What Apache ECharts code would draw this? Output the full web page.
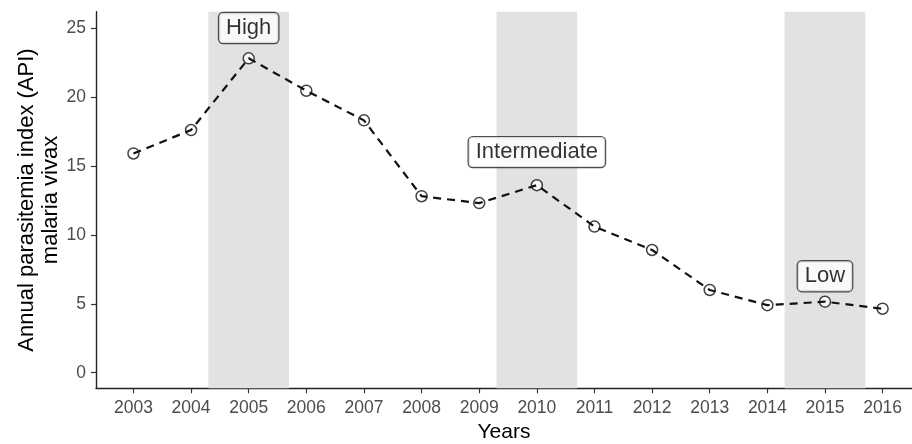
<!DOCTYPE html>
<html>
<head>
<meta charset="utf-8">
<script src="https://cdn.jsdelivr.net/npm/echarts@6/dist/echarts.min.js"></script>
<style>
  html, body { margin: 0; padding: 0; background: #fff; }
  #chart { width: 912px; height: 444px; }
</style>
</head>
<body>
<div id="chart"></div>
<script>
// Annual parasitemia index (API) for malaria vivax, by year
const years = [2003, 2004, 2005, 2006, 2007, 2008, 2009, 2010, 2011, 2012, 2013, 2014, 2015, 2016];
const api = [15.9, 17.6, 22.8, 20.45, 18.3, 12.8, 12.3, 13.6, 10.6, 8.9, 6.0, 4.9, 5.15, 4.64];

// Highlighted periods (shaded) and their labels
const bandRanges = [[2004.3, 2005.7], [2009.3, 2010.7], [2014.3, 2015.7]];
const bandLabels = ['High', 'Intermediate', 'Low'];
const labelYears = [2005, 2010, 2015];
const labelValues = [25, 16, 7];

const yTicks = [0, 5, 10, 15, 20, 25];

const font = 'Liberation Sans, Arial, Helvetica, sans-serif';

const chart = echarts.init(document.getElementById('chart'));

chart.setOption({
  animation: false,
  backgroundColor: '#ffffff',
  grid: { left: 96, right: 0, top: 11.7, bottom: 55.7, containLabel: false, outerBoundsMode: 'none' },
  xAxis: {
    type: 'value',
    min: 2002.35,
    max: 2016.51,
    name: 'Years',
    nameLocation: 'middle',
    nameGap: 33,
    nameMoveOverlap: false,
    nameTextStyle: { color: '#000', fontSize: 21, fontFamily: font },
    splitLine: { show: false },
    axisLine: { onZero: false, lineStyle: { color: '#222', width: 1.4 } },
    axisTick: { show: true, length: 5, customValues: years, lineStyle: { color: '#333', width: 1.2 } },
    axisLabel: {
      customValues: years,
      formatter: v => String(v),
      color: '#4d4d4d', fontSize: 17.5, fontFamily: font, margin: 11
    }
  },
  yAxis: {
    type: 'value',
    min: -1.13,
    max: 26.18,
    name: 'Annual parasitemia index (API)\nmalaria vivax',
    nameLocation: 'middle',
    nameRotate: 90,
    nameGap: 33,
    nameMoveOverlap: false,
    nameTextStyle: { color: '#000', fontSize: 22, fontFamily: font, lineHeight: 24 },
    splitLine: { show: false },
    axisLine: { show: true, onZero: false, lineStyle: { color: '#222', width: 1.4 } },
    axisTick: { show: true, length: 5, customValues: yTicks, lineStyle: { color: '#333', width: 1.2 } },
    axisLabel: { customValues: yTicks, color: '#4d4d4d', fontSize: 17.5, fontFamily: font, margin: 10 }
  },
  series: [
    {
      name: 'bands',
      type: 'line',
      data: [],
      z: 1,
      silent: true,
      markArea: {
        silent: true,
        itemStyle: { color: '#e2e2e2' },
        data: bandRanges.map(r => [{ xAxis: r[0] }, { xAxis: r[1] }])
      }
    },
    {
      name: 'points',
      type: 'scatter',
      z: 2,
      symbol: 'circle',
      symbolSize: 11,
      itemStyle: { color: '#ffffff', borderColor: '#111', borderWidth: 1.5 },
      data: years.map((y, i) => [y, api[i]])
    },
    {
      name: 'API',
      type: 'line',
      z: 3,
      symbol: 'none',
      lineStyle: { color: '#111', width: 2.2, type: [8, 6] },
      data: years.map((y, i) => [y, api[i]])
    },
    {
      name: 'labels',
      type: 'scatter',
      z: 4,
      symbolSize: 0,
      silent: true,
      label: {
        show: true,
        position: 'inside',
        formatter: p => p.data[2],
        color: '#000',
        fontSize: 22,
        fontFamily: font,
        lineHeight: 23,
        backgroundColor: '#ffffff',
        borderColor: '#222',
        borderWidth: 1.2,
        borderRadius: 4,
        padding: [4, 7, 3, 7]
      },
      data: labelYears.map((y, i) => [y, labelValues[i], bandLabels[i]])
    }
  ]
});
</script>
</body>
</html>
